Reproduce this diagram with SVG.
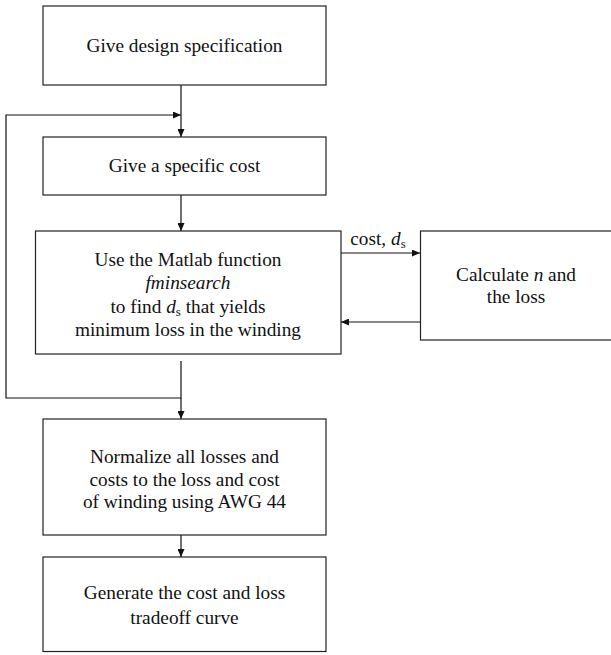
<svg xmlns="http://www.w3.org/2000/svg" width="611" height="655" viewBox="0 0 611 655">
<style>
.box{fill:#fff;stroke:#222;stroke-width:1.2}
.t{font-family:"Liberation Serif","Times New Roman",serif;font-size:19.3px;fill:#111;text-anchor:middle}
.c{fill:none;stroke:#111;stroke-width:1.2}
</style>
<defs>
<marker id="ah" markerWidth="8" markerHeight="7" refX="8" refY="3.5" orient="auto" markerUnits="userSpaceOnUse">
<path d="M0,0 L8,3.5 L0,7 Z" fill="#111"/>
</marker>
</defs>
<g id="connectors">
<line class="c" x1="181" y1="85" x2="181" y2="137" marker-end="url(#ah)"/>
<polyline class="c" points="181,361 181,398 6,398 6,115 181,115" marker-end="url(#ah)"/>
<line class="c" x1="181" y1="195" x2="181" y2="231" marker-end="url(#ah)"/>
<line class="c" x1="341" y1="253" x2="420" y2="253" marker-end="url(#ah)"/>
<line class="c" x1="420" y1="322" x2="341" y2="322" marker-end="url(#ah)"/>
<line class="c" x1="181" y1="398" x2="181" y2="419" marker-end="url(#ah)"/>
<line class="c" x1="181" y1="535" x2="181" y2="557" marker-end="url(#ah)"/>
<text class="t" x="378" y="245">cost, <tspan font-style="italic">d</tspan><tspan font-size="13" dy="3">s</tspan></text>
</g>
<g id="n1">
<rect class="box" x="43" y="6" width="283" height="79"/>
<text class="t" x="184.5" y="52">Give design specification</text>
</g>
<g id="n2">
<rect class="box" x="43" y="137" width="283" height="58"/>
<text class="t" x="184.5" y="172">Give a specific cost</text>
</g>
<g id="n3">
<rect class="box" x="35.5" y="231" width="305.5" height="123"/>
<text class="t" x="188" y="266">Use the Matlab function</text>
<text class="t" x="188" y="289" font-style="italic">fminsearch</text>
<text class="t" x="188" y="313">to find <tspan font-style="italic">d</tspan><tspan font-size="13" dy="3">s</tspan><tspan dy="-3"> that yields</tspan></text>
<text class="t" x="188" y="336">minimum loss in the winding</text>
</g>
<g id="n4">
<rect class="box" x="420.5" y="231" width="195" height="109"/>
<text class="t" x="516" y="281">Calculate <tspan font-style="italic">n</tspan> and</text>
<text class="t" x="516" y="303">the loss</text>
</g>
<g id="n5">
<rect class="box" x="43" y="419" width="283" height="116"/>
<text class="t" x="184.5" y="463">Normalize all losses and</text>
<text class="t" x="184.5" y="486">costs to the loss and cost</text>
<text class="t" x="184.5" y="508">of winding using AWG 44</text>
</g>
<g id="n6">
<rect class="box" x="43" y="557" width="283" height="94.5"/>
<text class="t" x="184.5" y="599">Generate the cost and loss</text>
<text class="t" x="184.5" y="624">tradeoff curve</text>
</g>
</svg>
